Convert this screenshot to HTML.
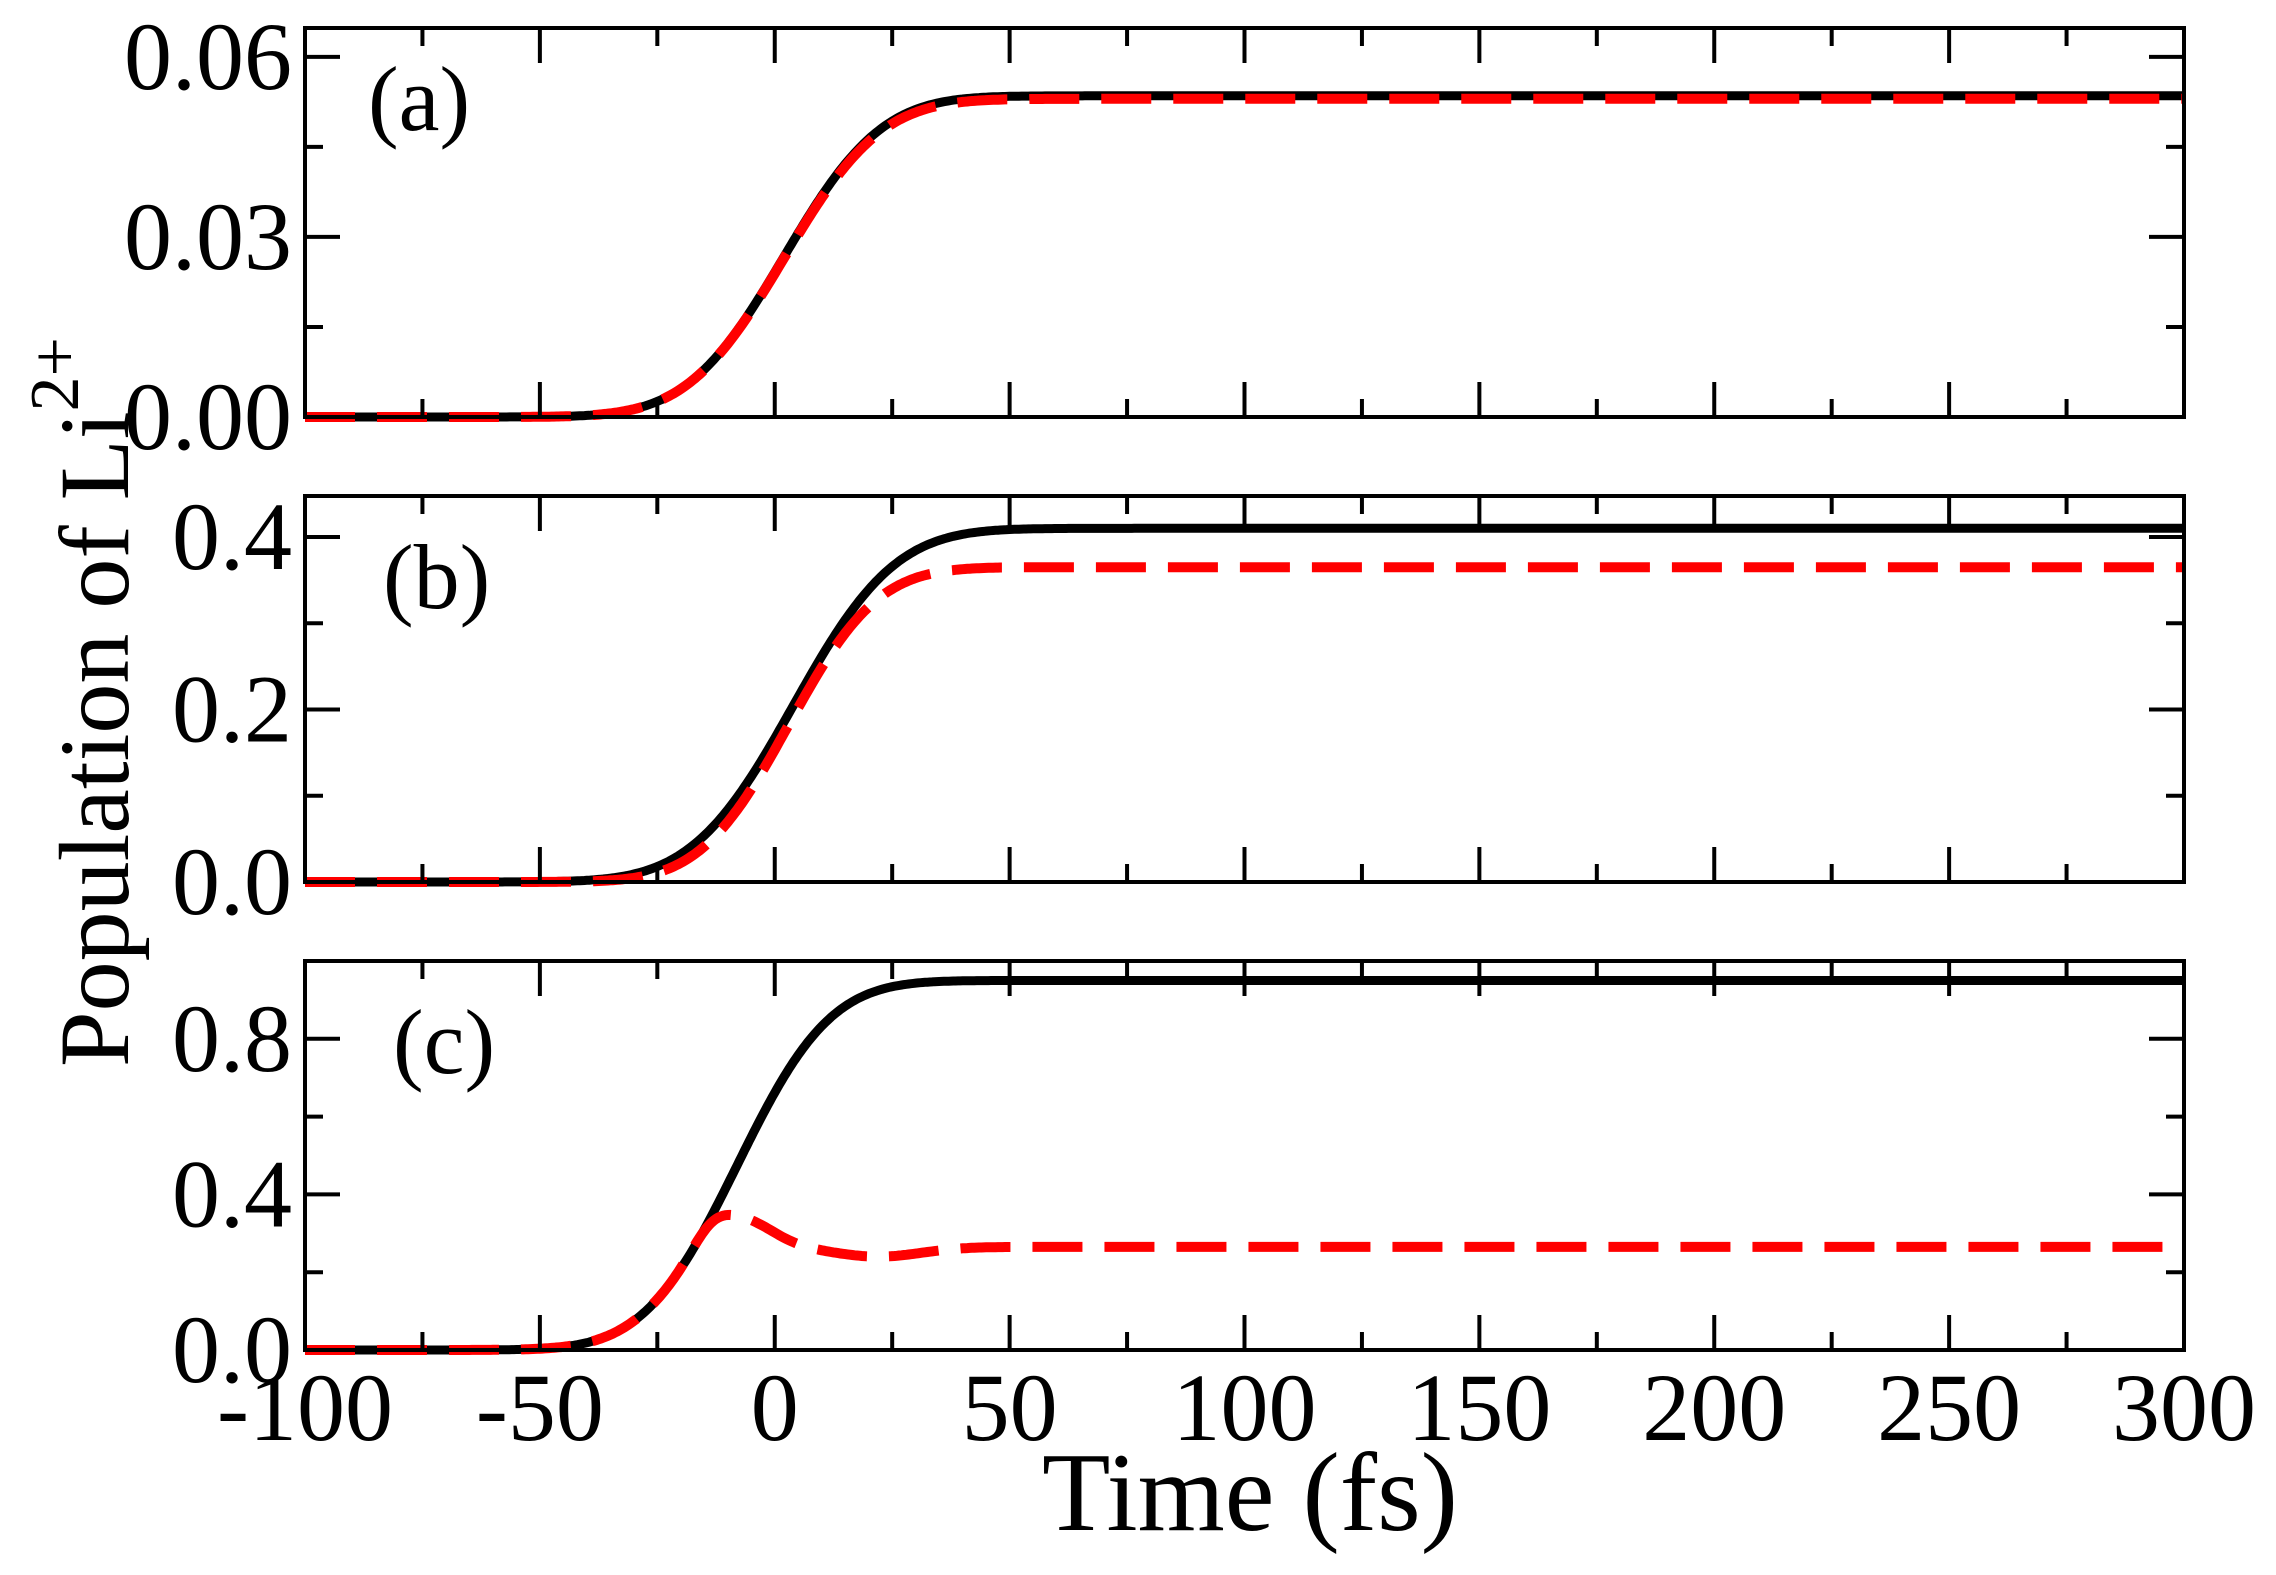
<!DOCTYPE html>
<html><head><meta charset="utf-8"><style>
html,body{margin:0;padding:0;background:#fff;}
svg{display:block;font-family:"Liberation Serif",serif;}
</style></head><body>
<svg id="s" width="2276" height="1575" viewBox="0 0 2276 1575" xmlns="http://www.w3.org/2000/svg">
<text x="0" y="0" font-size="100" transform="translate(128,1067) rotate(-90)">Population of Li<tspan font-size="70" dy="-50">2+</tspan></text>
<text x="1250" y="1530" font-size="112" text-anchor="middle">Time (fs)</text>
</svg>
<script>
(function(){
var s=document.getElementById('s'),NS='http://www.w3.org/2000/svg';
function el(n,a,t){var e=document.createElementNS(NS,n);for(var k in a)e.setAttribute(k,a[k]);if(t!=null)e.textContent=t;s.appendChild(e);return e;}
function erf(x){var t=1/(1+0.3275911*Math.abs(x));var y=1-(((((1.061405429*t-1.453152027)*t)+1.421413741)*t-0.284496736)*t+0.254829592)*t*Math.exp(-x*x);return x>=0?y:-y;}
function S(t,c,w){return (1+erf((t-c)/w))/2;}
var L=305,R=2184;
function X(t){return L+(t+100)/400*(R-L);}
function bc(t){return 0.95*S(t,-8,22);}
var panels=[
 {top:28,bot:417,ymax:0.0648,ticks:[[0,'0.00'],[0.03,'0.03'],[0.06,'0.06']],minor:[0.015,0.045],lab:'(a)',lx:368,ly:130,
  f:[function(t){return 0.0535*S(t,2,23);},function(t){return 0.0530*S(t,2,23);}]},
 {top:496,bot:882,ymax:0.4475,ticks:[[0,'0.0'],[0.2,'0.2'],[0.4,'0.4']],minor:[0.1,0.3],lab:'(b)',lx:383,ly:608,
  f:[function(t){return 0.41*S(t,4,24);},function(t){return 0.365*S(t,3,21);}]},
 {top:961,bot:1350,ymax:1.0,ticks:[[0,'0.0'],[0.4,'0.4'],[0.8,'0.8']],minor:[0.2,0.6],lab:'(c)',lx:393,ly:1073,
  f:[bc,function(t){var w=S(t,-13,5);var h=0.265+0.07*Math.exp(-Math.pow((t+7)/9,2))-0.025*Math.exp(-Math.pow((t-22)/13,2));return bc(t)*(1-w)+w*h;}]}
];
panels.forEach(function(p,i){
 function Y(v){return p.bot-v/p.ymax*(p.bot-p.top);}
 var cl='c'+i;
 var cp=el('clipPath',{id:cl});
 var r=document.createElementNS(NS,'rect');r.setAttribute('x',L);r.setAttribute('y',p.top-10);r.setAttribute('width',R-L);r.setAttribute('height',p.bot-p.top+20);cp.appendChild(r);
 ['#000','#f00'].forEach(function(col,j){
  var d='';for(var t=-100;t<=300;t+=0.5){d+=(t==-100?'M':'L')+X(t).toFixed(1)+','+Y(p.f[j](t)).toFixed(1);}
  var a={d:d,fill:'none',stroke:col,'stroke-width':9,'clip-path':'url(#'+cl+')'};
  if(j==1){a['stroke-dasharray']='50 22';a['stroke-width']=10;}
  el('path',a);
 });
 el('rect',{x:L,y:p.top,width:R-L,height:p.bot-p.top,fill:'none',stroke:'#000','stroke-width':4});
 for(var t=-100;t<=300;t+=25){var maj=(t%50==0),len=maj?35:18,x=X(t);
  el('line',{x1:x,y1:p.bot,x2:x,y2:p.bot-len,stroke:'#000','stroke-width':4});
  el('line',{x1:x,y1:p.top,x2:x,y2:p.top+len,stroke:'#000','stroke-width':4});
  if(i==2&&maj) el('text',{x:x,y:1440,'font-size':96,'text-anchor':'middle'},String(t));
 }
 p.ticks.forEach(function(tk){var y=Y(tk[0]);
  el('line',{x1:L,y1:y,x2:L+35,y2:y,stroke:'#000','stroke-width':4});
  el('line',{x1:R,y1:y,x2:R-35,y2:y,stroke:'#000','stroke-width':4});
  el('text',{x:292,y:y+32,'font-size':96,'text-anchor':'end'},tk[1]);
 });
 p.minor.forEach(function(v){var y=Y(v);
  el('line',{x1:L,y1:y,x2:L+18,y2:y,stroke:'#000','stroke-width':4});
  el('line',{x1:R,y1:y,x2:R-18,y2:y,stroke:'#000','stroke-width':4});
 });
 el('text',{x:p.lx,y:p.ly,'font-size':92},p.lab);
});
})();
</script>
</body></html>
